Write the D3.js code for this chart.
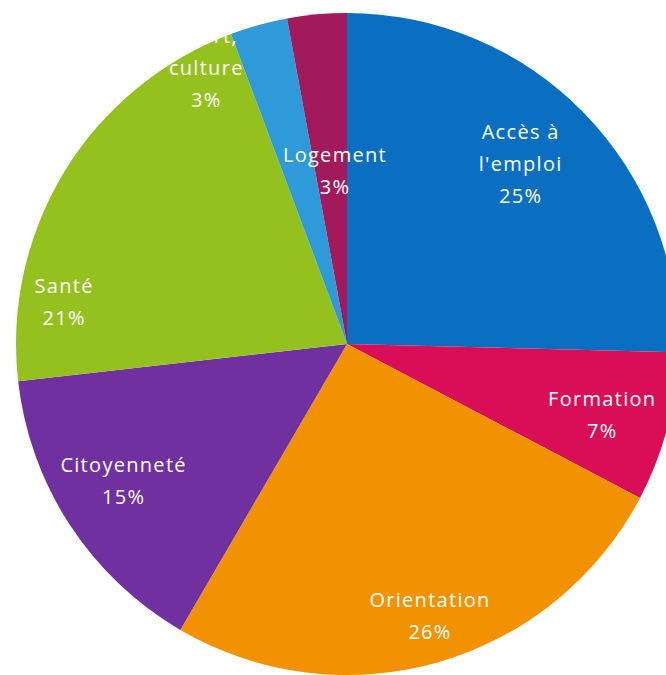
<!DOCTYPE html>
<html>
<head>
<meta charset="utf-8">
<script src="https://cdn.jsdelivr.net/npm/d3@7"></script>
<style>
  html, body { margin: 0; padding: 0; background: #fff; }
  svg { display: block; }
</style>
</head>
<body>
<svg id="chart" width="666" height="675"></svg>
<script>
// ---- data ----
const categories = ["Accès à l'emploi", "Formation", "Orientation", "Citoyenneté", "Santé", "Sport, culture", "Logement"];
const labelLines = [["Accès à", "l'emploi"], ["Formation"], ["Orientation"], ["Citoyenneté"], ["Santé"], ["Sport,", "culture"], ["Logement"]];
const values = [25.4, 7.3, 25.7, 14.8, 21.1, 2.8, 2.9];
const colors = ["#0B6FC1", "#DA0E57", "#F39200", "#7030A0", "#95C11F", "#2E9AD9", "#A31A5C"];

// ---- layout (label anchor: angle in degrees clockwise from top, radius) ----
const labelPolar = [[44, 250], [105.6, 265], [163, 284], [238.5, 262], [278.4, 286], [333, 310], [356, 173]];
const W = 666, H = 675;
const cx = 347, cy = 344, R = 331;

const svg = d3.select("#chart");
const g = svg.append("g").attr("transform", `translate(${cx},${cy})`);

const pie = d3.pie().sort(null).value(d => d)(values);
const arc = d3.arc().innerRadius(0).outerRadius(R);
const color = d3.scaleOrdinal().domain(categories).range(colors);

g.selectAll("path.slice")
  .data(pie)
  .join("path")
  .attr("class", "slice")
  .attr("d", arc)
  .attr("fill", (d, i) => color(categories[i]));

const fmt = v => Math.round(v) + "%";
const lineH = 32;

pie.forEach((d, i) => {
  const [deg, r] = labelPolar[i];
  const a = deg * Math.PI / 180;
  const x = r * Math.sin(a), y = -r * Math.cos(a);
  const lines = labelLines[i].concat([fmt(values[i])]);
  const n = lines.length;
  const t = g.append("text")
    .attr("x", x).attr("y", y)
    .attr("text-anchor", "middle")
    .attr("fill", "#ffffff")
    .attr("font-family", "'Open Sans', 'DejaVu Sans', sans-serif")
    .attr("font-size", 20)
    .attr("letter-spacing", 1.3);
  lines.forEach((ln, k) => {
    t.append("tspan")
      .attr("x", x)
      .attr("y", y + (k - (n - 1) / 2) * lineH)
      .attr("dy", "0.35em")
      .text(ln);
  });
});
</script>
</body>
</html>
